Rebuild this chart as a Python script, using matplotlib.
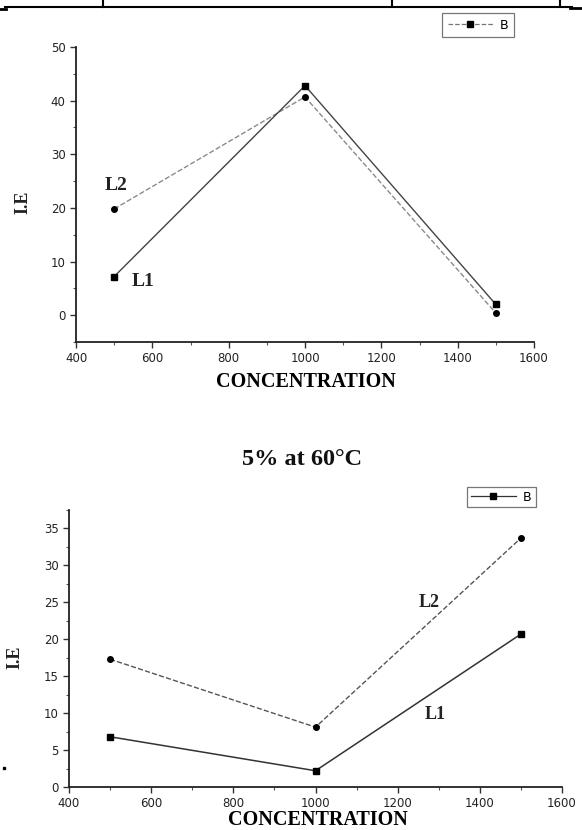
import numpy as np
import matplotlib
matplotlib.use('Agg')
import matplotlib.pyplot as plt
from matplotlib.lines import Line2D
from matplotlib.ticker import MultipleLocator

# top chart
conc = [500, 1000, 1500]
top_L1 = [7.2, 42.8, 2.0]
top_L2 = [19.8, 40.7, 0.4]
# bottom chart: 5% at 60C
bot_L1 = [6.8, 2.2, 20.7]
bot_L2 = [17.3, 8.1, 33.7]
title_bot = '5% at 60°C'
xlab = 'CONCENTRATION'
ylab = 'I.E'
leg_label = 'B'

W, H = 582, 830
fig = plt.figure(figsize=(W/100, H/100), dpi=100)
sans = 'DejaVu Sans'
serif = 'Liberation Serif'

def fx(px):
    return px / W
def fy(py):
    return 1 - py / H

def style_ax(ax, ymaj, ymin, fs):
    for s in ['top', 'right']:
        ax.spines[s].set_visible(False)
    for s in ['left', 'bottom']:
        ax.spines[s].set_linewidth(1.3)
        ax.spines[s].set_color('#222222')
    ax.xaxis.set_major_locator(MultipleLocator(200))
    ax.xaxis.set_minor_locator(MultipleLocator(100))
    ax.yaxis.set_major_locator(MultipleLocator(ymaj))
    ax.yaxis.set_minor_locator(MultipleLocator(ymin))
    ax.tick_params(which='major', direction='out', length=4, width=1, color='#333333',
                   labelsize=fs, pad=3.5)
    ax.tick_params(which='minor', direction='out', length=2.5, width=0.8, color='#555555')
    for lb in ax.get_xticklabels() + ax.get_yticklabels():
        lb.set_fontfamily(sans)
        lb.set_color('#222222')

def legend_box(ax, handle, x0, y0, bp):
    leg = ax.legend([handle], [leg_label], loc='upper left', bbox_to_anchor=(fx(x0), fy(y0)),
                    bbox_transform=fig.transFigure, frameon=True, fancybox=False,
                    prop={'family': sans, 'size': 9}, handlelength=3.6,
                    borderpad=bp, handletextpad=0.6, borderaxespad=0)
    leg.get_frame().set_edgecolor('#555555')
    leg.get_frame().set_linewidth(0.9)

# ---- top axes ----
ax1 = fig.add_axes([fx(76), fy(342), fx(534) - fx(76), fy(47) - fy(342)])
ax1.plot(conc, top_L2, color='#8a8a8a', ls='--', lw=1.0, marker='o', ms=4,
         mfc='black', mec='black')
ax1.plot(conc, top_L1, color='#444444', ls='-', lw=1.0, marker='s', ms=3.8,
         mfc='black', mec='black')
ax1.set_xlim(400, 1600)
ax1.set_ylim(-5, 50)
style_ax(ax1, 10, 5, 8.5)
ax1.text(505, 24.2, 'L2', fontfamily=serif, fontweight='bold', fontsize=14,
         ha='center', va='center', color='#222222')
ax1.text(575, 6.2, 'L1', fontfamily=serif, fontweight='bold', fontsize=14,
         ha='center', va='center', color='#222222')
ax1.set_xlabel(xlab, fontfamily=serif, fontweight='bold', fontsize=14.5)
ax1.xaxis.set_label_coords(0.502, -0.1)
h1 = Line2D([], [], color='#777777', ls='--', lw=0.9, marker='s', ms=4.5,
            mfc='black', mec='black')
legend_box(ax1, h1, 442, 13, 0.45)

# ---- bottom axes ----
ax2 = fig.add_axes([fx(69), fy(787), fx(562) - fx(69), fy(510) - fy(787)])
ax2.plot(conc, bot_L2, color='#555555', ls='--', lw=1.0, marker='o', ms=4,
         mfc='black', mec='black')
ax2.plot(conc, bot_L1, color='#333333', ls='-', lw=1.1, marker='s', ms=3.8,
         mfc='black', mec='black')
ax2.set_xlim(400, 1600)
ax2.set_ylim(0, 37.5)
style_ax(ax2, 5, 2.5, 8.5)
ax2.text(1276, 25.0, 'L2', fontfamily=serif, fontweight='bold', fontsize=13,
         ha='center', va='center', color='#222222')
ax2.text(1292, 9.8, 'L1', fontfamily=serif, fontweight='bold', fontsize=13,
         ha='center', va='center', color='#222222')
ax2.set_xlabel(xlab, fontfamily=serif, fontweight='bold', fontsize=14.5)
ax2.xaxis.set_label_coords(0.505, -0.082)
h2 = Line2D([], [], color='#333333', ls='-', lw=0.9, marker='s', ms=4.5,
            mfc='black', mec='black')
legend_box(ax2, h2, 467, 487, 0.3)

# y labels and middle title
fig.text(fx(23), fy(202), ylab, rotation=90, fontfamily=serif, fontweight='bold',
         fontsize=13, ha='center', va='center', color='#222222')
fig.text(fx(15), fy(657), ylab, rotation=90, fontfamily=serif, fontweight='bold',
         fontsize=13, ha='center', va='center', color='#222222')
fig.text(fx(302), fy(459), title_bot, fontfamily=serif, fontweight='bold',
         fontsize=17.5, ha='center', va='center', color='#111111')

# table border from the scanned page
fig.add_artist(Line2D([fx(5), fx(572)], [fy(7), fy(7)], color='black', lw=1.5))
for vx in [103, 392, 560]:
    fig.add_artist(Line2D([fx(vx), fx(vx)], [fy(0), fy(7)], color='black', lw=1.5))
fig.add_artist(Line2D([fx(0), fx(6)], [fy(9), fy(9)], color='black', lw=2))
fig.add_artist(Line2D([fx(570), fx(582)], [fy(8), fy(8)], color='black', lw=2))
fig.add_artist(Line2D([fx(4)], [fy(768)], color='black', marker='s', ms=1.5, lw=0))

fig.savefig('out.png', dpi=100)
